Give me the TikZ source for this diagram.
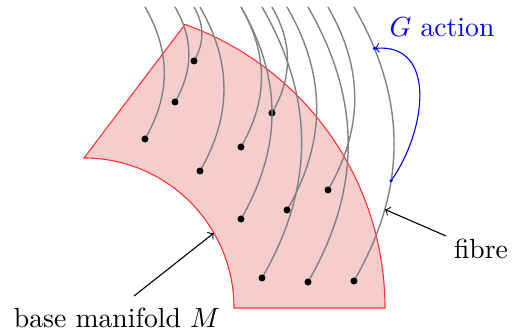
\documentclass[tikz,border=0pt]{standalone}
\usetikzlibrary{calc}

\definecolor{basefill}{RGB}{246,205,205}

\begin{document}
\begin{tikzpicture}[
  x=0.0127cm, y=0.0127cm,
  base/.style={draw=red!80, fill=basefill},
  fibre/.style={draw=gray, line width=0.5pt},
  gdot/.style={fill=blue},
  act/.style={->, blue},
  lab/.style={->, black}
]
\useasboundingbox (0,0) rectangle (515,333);
\coordinate (O) at (84,25);

% the base: a bent strip round O
\draw[base] ($(O)+(90:150)$) -- ($(O)+(70.4:301)$)
  arc[start angle=70.4, end angle=0, radius=301]
  -- ($(O)+(0:150)$) arc[start angle=0, end angle=90, radius=150] -- cycle;

% one fibre over each point, all ending at the same height
\foreach \x/\y [count=\i] in {194/272, 175/231, 145/194, 272/220, 241/186, 200/162,
                              328/143, 287/123, 241/114, 262/55, 308/51, 354/52} {
  \coordinate (p\i) at (\x,\y);
  \coordinate (t\i) at (\x,326);
  \draw[fibre] (p\i) to[bend right=30] (t\i);
  \fill (p\i) circle (3.5);
}

% points on the last fibre
\path (p12) to[bend right=30]
  coordinate[pos=0.26] (f1) coordinate[pos=0.365] (g1) coordinate[pos=0.85] (g2) (t12);
\fill[gdot] (g1) circle (1.8);
\fill[gdot] (g2) circle (1.8);
\draw[act] (g1) to[out=55, in=5, looseness=1.2] (g2);

\node[blue] (gl) at (442,306) {$G$ action};
\node (fl) at (481,84) {fibre};
\node (bl) at (117,15) {base manifold $M$};

\coordinate (fs) at (446,97);
\coordinate (bs) at (134,37);
\coordinate (m1) at ($(O)+(30:150)$);
\draw[lab] (fs) -- (f1);
\draw[lab] (bs) -- (m1);
\end{tikzpicture}
\end{document}
